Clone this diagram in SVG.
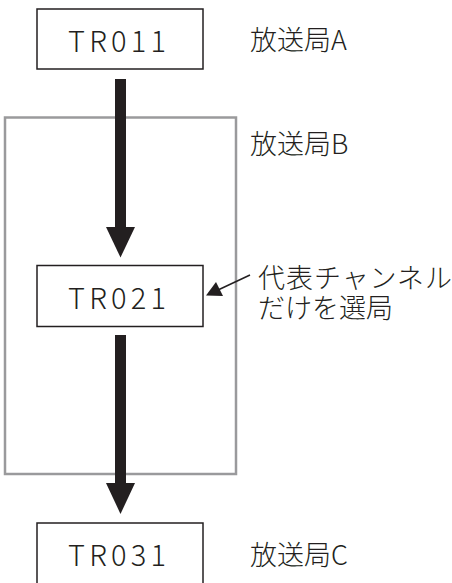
<svg xmlns="http://www.w3.org/2000/svg" width="452" height="583" viewBox="0 0 452 583">
<defs>
<style>
.node{fill:#fff;stroke:#231f20;stroke-width:1.5}
.group{fill:none;stroke:#9a9a9c;stroke-width:2.5}
.t{font-family:"Noto Sans CJK JP","Noto Sans",sans-serif;font-size:27px;fill:#231f20;font-weight:300}
.tr{font-family:"Noto Sans CJK JP","Noto Sans",sans-serif;font-size:29px;fill:#231f20;font-weight:300}
.shaft{fill:#231f20}
.leader{stroke:#231f20;stroke-width:1.5;fill:none}
</style>
</defs>
<rect width="452" height="583" fill="#fff"/>
<g id="stationB">
<rect class="group" x="5" y="117.5" width="231" height="356.5"/>
<text class="t" x="250" y="154">放送局B</text>
</g>
<g id="connectors">
<rect class="shaft" x="115" y="79" width="11" height="148"/>
<polygon class="shaft" points="106,227 135,227 120.5,257.5"/>
<rect class="shaft" x="115" y="335" width="11" height="148.5"/>
<polygon class="shaft" points="106,483 135,483 120.5,514"/>
<line class="leader" x1="250" y1="275" x2="218" y2="290"/>
<polygon class="shaft" points="206,295.5 216,282 223,296"/>
</g>
<g id="TR011">
<rect class="node" x="37" y="9" width="166" height="60"/>
<text class="tr" x="68" y="52" textLength="98" lengthAdjust="spacing">TR011</text>
<text class="t" x="250" y="50">放送局A</text>
</g>
<g id="TR021">
<rect class="node" x="37" y="265.5" width="166" height="61"/>
<text class="tr" x="68" y="309" textLength="98" lengthAdjust="spacing">TR021</text>
</g>
<g id="note">
<text class="t" x="258" y="288" textLength="194" lengthAdjust="spacing">代表チャンネル</text>
<text class="t" x="258" y="318">だけを選局</text>
</g>
<g id="TR031">
<rect class="node" x="37" y="523" width="166" height="70"/>
<text class="tr" x="68" y="566" textLength="98" lengthAdjust="spacing">TR031</text>
<text class="t" x="250" y="565">放送局C</text>
</g>
</svg>
